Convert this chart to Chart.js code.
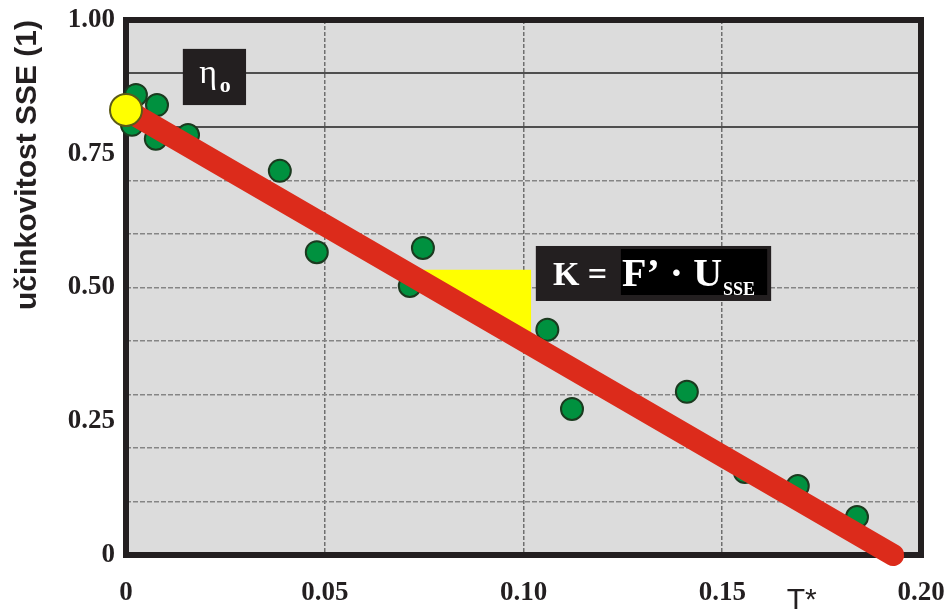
<!DOCTYPE html>
<html>
<head>
<meta charset="utf-8">
<script src="https://cdn.jsdelivr.net/npm/chart.js@4"></script>
<style>
  html, body { margin: 0; padding: 0; background: #fff; }
</style>
</head>
<body>
<canvas id="ucinnost" width="947" height="610"></canvas>
<script>
// measured points (T*, efficiency)
var measX = [-0.005, 0.0025, 0.0078, 0.0015, 0.0075, 0.0156, 0.0387, 0.048, 0.0747, 0.0714, 0.106, 0.1122, 0.1411, 0.1557, 0.169, 0.1839];
var measY = [0.867, 0.860, 0.841, 0.804, 0.778, 0.785, 0.718, 0.566, 0.574, 0.503, 0.421, 0.273, 0.305, 0.155, 0.129, 0.071];
// fitted line
var fitX = [0, 0.193];
var fitY = [0.832, 0];
// eta0 intercept
var etaX = [0];
var etaY = [0.832];
// slope triangle
var triX = [0.0694, 0.1019, 0.1019, 0.0694];
var triY = [0.533, 0.533, 0.393, 0.533];

var xTickValues = [0, 0.05, 0.1, 0.15, 0.2];
var xTickLabels = ["0", "0.05", "0.10", "0.15", "0.20"];
var yLabelValues = [0, 0.25, 0.5, 0.75, 1];
var yTickLabels = ["0", "0.25", "0.50", "0.75", "1.00"];
var yGridDashed = [0.1, 0.2, 0.3, 0.4, 0.5, 0.6, 0.7];
var yGridSolid = [0.8, 0.9];

function pts(xs, ys) {
  return xs.map(function (x, i) { return { x: x, y: ys[i] }; });
}
function near(list, v) {
  return list.findIndex(function (t) { return Math.abs(t - v) < 1e-6; });
}

var serif = "'Liberation Serif', 'Times New Roman', serif";

var decor = {
  id: 'decor',
  beforeDraw: function (chart) {
    var a = chart.chartArea, ctx = chart.ctx;
    ctx.save();
    ctx.fillStyle = '#dcdcdc';
    ctx.fillRect(a.left, a.top, a.right - a.left, a.bottom - a.top);
    ctx.restore();
  },
  beforeDatasetsDraw: function (chart) {
    var a = chart.chartArea, ctx = chart.ctx;
    ctx.save();
    ctx.strokeStyle = '#231f20';
    ctx.lineWidth = 6;
    ctx.strokeRect(a.left, a.top, a.right - a.left, a.bottom - a.top);
    ctx.restore();
  },
  afterDatasetsDraw: function (chart) {
    var ctx = chart.ctx;
    var px = function (v) { return chart.scales.x.getPixelForValue(v); };
    var py = function (v) { return chart.scales.y.getPixelForValue(v); };
    ctx.save();
    // eta0 box
    ctx.fillStyle = '#231f20';
    ctx.fillRect(px(0.0143), py(0.946), px(0.0302) - px(0.0143), py(0.841) - py(0.946));
    ctx.fillStyle = '#fff';
    ctx.textBaseline = 'alphabetic';
    ctx.textAlign = 'left';
    ctx.font = '34px ' + serif;
    ctx.fillText('η', px(0.0184), py(0.882));
    ctx.font = 'bold 22px ' + serif;
    ctx.fillText('o', px(0.0236), py(0.8654));

    // K = F' . Usse box
    ctx.fillStyle = '#231f20';
    ctx.fillRect(px(0.1031), py(0.5776), px(0.1623) - px(0.1031), py(0.4748) - py(0.5776));
    ctx.fillStyle = '#000';
    ctx.fillRect(px(0.1245), py(0.572), px(0.1613) - px(0.1245), py(0.486) - py(0.572));
    ctx.fillStyle = '#fff';
    ctx.font = 'bold 34px ' + serif;
    ctx.fillText('K =', px(0.1074), py(0.5047));
    ctx.font = 'bold 40px ' + serif;
    var fx = px(0.1248);
    ctx.fillText('F\u2019 \u00b7 U', fx, py(0.5028));
    var w = ctx.measureText('F\u2019 \u00b7 U').width;
    ctx.font = 'bold 18px ' + serif;
    ctx.fillText('SSE', fx + w + 1, py(0.486));

    // T* axis label
    ctx.fillStyle = '#231f20';
    ctx.font = "30px 'Liberation Sans', Arial, sans-serif";
    ctx.textAlign = 'center';
    ctx.textBaseline = 'top';
    ctx.fillText('T*', px(0.17), chart.chartArea.bottom + 31);
    ctx.restore();
  }
};

new Chart("ucinnost", {
  type: "scatter",
  data: {
    datasets: [{
      data: pts(etaX, etaY),
      backgroundColor: "#ffff00",
      borderColor: "#5c5a18",
      borderWidth: 2,
      pointRadius: 16,
      clip: false,
      order: 0
    }, {
      type: "line",
      data: pts(fitX, fitY),
      borderColor: "#dc2b1b",
      borderWidth: 22,
      borderCapStyle: "round",
      pointRadius: 0,
      fill: false,
      clip: false,
      order: 1
    }, {
      data: pts(measX, measY),
      backgroundColor: "#00913f",
      borderColor: "#1b3a1f",
      borderWidth: 2,
      pointRadius: 11,
      clip: false,
      order: 2
    }, {
      type: "line",
      data: pts(triX, triY),
      backgroundColor: "#ffff00",
      borderWidth: 0,
      pointRadius: 0,
      fill: "shape",
      tension: 0,
      order: 3
    }]
  },
  plugins: [decor],
  options: {
    responsive: false,
    animation: false,
    layout: { padding: { top: 20, right: 26, left: 0, bottom: 0 } },
    plugins: {
      legend: { display: false },
      tooltip: { enabled: false }
    },
    scales: {
      x: {
        type: "linear",
        min: 0,
        max: 0.2,
        afterFit: function (s) { s.height = 55; s.paddingLeft = 0; s.paddingRight = 0; },
        afterBuildTicks: function (s) { s.ticks = xTickValues.map(function (v) { return { value: v }; }); },
        ticks: {
          autoSkip: false,
          maxRotation: 0,
          padding: 22,
          color: "#231f20",
          font: { family: serif, size: 27, weight: "bold" },
          callback: function (v) { var i = near(xTickValues, v); return i < 0 ? "" : xTickLabels[i]; }
        },
        grid: {
          drawTicks: false,
          lineWidth: 1.5,
          color: function (c) {
            var v = c.tick ? c.tick.value : 0;
            return (v > 0.001 && v < 0.199) ? "#6f6f6f" : "rgba(0,0,0,0)";
          }
        },
        border: { display: false, dash: [4, 2] }
      },
      y: {
        type: "linear",
        min: 0,
        max: 1,
        afterFit: function (s) { s.width = 126; s.paddingTop = 0; s.paddingBottom = 0; },
        afterBuildTicks: function (s) {
          var vals = yGridDashed.concat(yGridSolid, yLabelValues).sort(function (a, b) { return a - b; });
          s.ticks = vals.filter(function (v, i) { return i === 0 || Math.abs(v - vals[i - 1]) > 1e-6; })
            .map(function (v) { return { value: v }; });
        },
        ticks: {
          autoSkip: false,
          padding: 11,
          color: "#231f20",
          font: { family: serif, size: 27, weight: "bold" },
          callback: function (v) { var i = near(yLabelValues, v); return i < 0 ? "" : yTickLabels[i]; }
        },
        grid: {
          drawTicks: false,
          lineWidth: 1.5,
          color: function (c) {
            var v = c.tick ? c.tick.value : 0;
            return near(yGridDashed, v) >= 0 ? "#858585" : "rgba(0,0,0,0)";
          }
        },
        border: { display: false, dash: [5, 2] },
        title: {
          display: true,
          text: "učinkovitost SSE (1)",
          align: "end",
          color: "#231f20",
          padding: { top: 10, bottom: 0 },
          font: { family: "'Liberation Sans Narrow', 'Liberation Sans', Arial, sans-serif", size: 30, weight: "bold" }
        }
      },
      y2: {
        type: "linear",
        position: "right",
        min: 0,
        max: 1,
        afterFit: function (s) { s.width = 0; s.paddingTop = 0; s.paddingBottom = 0; },
        afterBuildTicks: function (s) { s.ticks = yGridSolid.map(function (v) { return { value: v }; }); },
        ticks: { display: false },
        grid: { drawTicks: false, lineWidth: 2, color: "#4e4e4e" },
        border: { display: false }
      }
    }
  }
});
</script>
</body>
</html>
